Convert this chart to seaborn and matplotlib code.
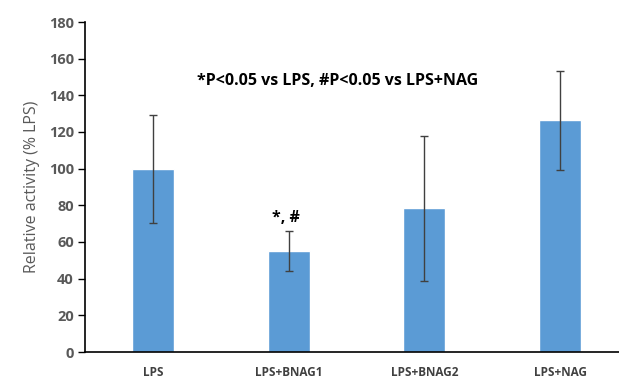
import matplotlib
matplotlib.use("Agg")
import matplotlib.pyplot as plt
import seaborn as sns
import pandas as pd
import numpy as np

categories = ["LPS", "LPS+BNAG1", "LPS+BNAG2", "LPS+NAG"]
values = [100, 55, 78.5, 126.5]
errors = [29.5, 11, 39.5, 27]
yticks = [0, 20, 40, 60, 80, 100, 120, 140, 160, 180]

sns.set_style("white")
plt.rcParams['font.family'] = ['Open Sans', 'DejaVu Sans']

df = pd.DataFrame({"cat": categories, "val": values})

fig = plt.figure(figsize=(6.19, 3.79), dpi=100)
ax = fig.add_axes([85/619, 1-352/379, 1-85/619, (352-22)/379])

sns.barplot(data=df, x="cat", y="val", color="#5B9BD5", saturation=1,
            width=0.31, ax=ax, errorbar=None)
ax.errorbar(np.arange(len(categories)), values, yerr=errors, fmt="none",
            ecolor="#404040", elinewidth=1, capsize=3, capthick=1)

ax.set_ylim(0, 180)
ax.set_xlim(-0.5, 3.434)
ax.set_yticks(yticks)
ax.set_yticklabels([str(t) for t in yticks], fontsize=10.5, fontweight="bold", color="#595959")
ax.set_xticks(range(len(categories)))
ax.set_xticklabels(categories, fontsize=8.5, fontweight="bold", color="#404040")
ax.tick_params(axis="x", length=0, pad=10)
ax.tick_params(axis="y", length=5, width=1, color="black", direction="out", left=True, pad=3)
ax.set_xlabel("")
ax.set_ylabel("Relative activity (% LPS)", fontsize=11.5, color="#595959", labelpad=6)

for s in ["top", "right"]:
    ax.spines[s].set_visible(False)
ax.spines["left"].set_color("black")
ax.spines["bottom"].set_color("black")
ax.spines["left"].set_linewidth(1.2)
ax.spines["bottom"].set_linewidth(1.2)

ax.text(1.36, 148, "*P<0.05 vs LPS, #P<0.05 vs LPS+NAG", ha="center", va="center",
        fontsize=11.5, fontweight="bold", color="black")
ax.text(0.98, 73, "*, #", ha="center", va="center", fontsize=11.5, fontweight="bold", color="black")

fig.savefig("out.png", dpi=100)
